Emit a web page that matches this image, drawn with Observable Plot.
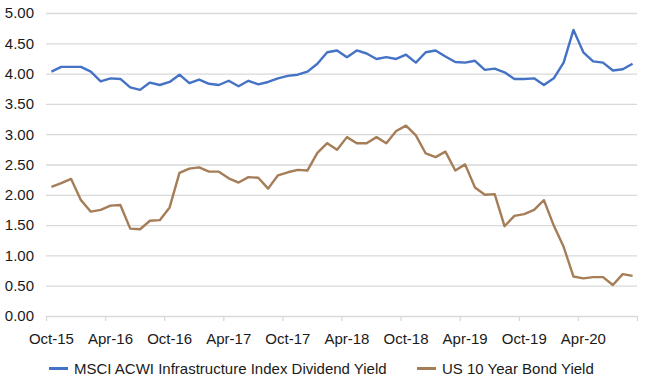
<!DOCTYPE html>
<html>
<head>
<meta charset="utf-8">
<script src="https://cdn.jsdelivr.net/npm/d3@7"></script>
<script src="https://cdn.jsdelivr.net/npm/@observablehq/plot@0.6"></script>
<style>
  html, body { margin: 0; padding: 0; background: #fff; }
  body { width: 646px; height: 384px; overflow: hidden; font-family: "Liberation Sans", Arial, sans-serif; }
  #legend { position: relative; height: 32px; font-size: 15px; color: #1a1a1a; }
  .item { position: absolute; top: 8px; display: flex; align-items: center; white-space: nowrap; }
  .sw { width: 19px; height: 3px; margin-right: 6px; }
</style>
</head>
<body>
<div id="chart"></div>
<div id="legend"></div>
<script>
const months = [
  "Oct-15","Nov-15","Dec-15","Jan-16","Feb-16","Mar-16","Apr-16","May-16","Jun-16","Jul-16","Aug-16","Sep-16",
  "Oct-16","Nov-16","Dec-16","Jan-17","Feb-17","Mar-17","Apr-17","May-17","Jun-17","Jul-17","Aug-17","Sep-17",
  "Oct-17","Nov-17","Dec-17","Jan-18","Feb-18","Mar-18","Apr-18","May-18","Jun-18","Jul-18","Aug-18","Sep-18",
  "Oct-18","Nov-18","Dec-18","Jan-19","Feb-19","Mar-19","Apr-19","May-19","Jun-19","Jul-19","Aug-19","Sep-19",
  "Oct-19","Nov-19","Dec-19","Jan-20","Feb-20","Mar-20","Apr-20","May-20","Jun-20","Jul-20","Aug-20","Sep-20"
];
const infraYield = [
  4.04,4.12,4.12,4.12,4.04,3.88,3.93,3.92,3.78,3.74,3.86,3.82,
  3.87,3.99,3.85,3.91,3.84,3.82,3.89,3.80,3.89,3.83,3.87,3.93,
  3.97,3.99,4.04,4.17,4.36,4.39,4.28,4.39,4.34,4.25,4.28,4.25,
  4.32,4.19,4.36,4.39,4.29,4.20,4.19,4.22,4.07,4.09,4.03,3.92,
  3.92,3.93,3.82,3.93,4.19,4.73,4.36,4.21,4.19,4.06,4.08,4.17
];
const bondYield = [
  2.14,2.20,2.27,1.92,1.73,1.76,1.83,1.84,1.45,1.44,1.58,1.59,
  1.80,2.37,2.44,2.46,2.39,2.39,2.28,2.21,2.30,2.29,2.11,2.33,
  2.38,2.42,2.41,2.70,2.86,2.75,2.96,2.86,2.86,2.96,2.86,3.06,
  3.15,2.99,2.69,2.63,2.72,2.41,2.51,2.13,2.01,2.02,1.49,1.66,
  1.69,1.76,1.92,1.50,1.15,0.66,0.63,0.65,0.65,0.52,0.70,0.67
];
const tickLabels = ["Oct-15","Apr-16","Oct-16","Apr-17","Oct-17","Apr-18","Oct-18","Apr-19","Oct-19","Apr-20"];
const yTicks = [0,0.5,1,1.5,2,2.5,3,3.5,4,4.5,5];
const seriesNames = ["MSCI ACWI Infrastructure Index Dividend Yield", "US 10 Year Bond Yield"];
const seriesColors = ["#4472c4", "#a57d57"];

const rows = [];
months.forEach((m, i) => {
  rows.push({i, month: m, value: infraYield[i], series: seriesNames[0]});
  rows.push({i, month: m, value: bondYield[i], series: seriesNames[1]});
});
const labelIdx = tickLabels.map(t => months.indexOf(t));
const boundaries = d3.range(0, months.length + 1, 6).map(k => k - 0.5);

const chart = Plot.plot({
  width: 646,
  height: 352,
  marginLeft: 46,
  marginRight: 9,
  marginTop: 13,
  marginBottom: 36,
  style: {fontFamily: '"Liberation Sans", Arial, sans-serif', fontSize: "15px", color: "#1a1a1a", background: "#fff"},
  x: {type: "linear", domain: [-0.5, months.length - 0.5], label: null},
  y: {domain: [0, 5], label: null},
  color: {domain: seriesNames, range: seriesColors},
  marks: [
    Plot.gridY(yTicks, {stroke: "#d9d9d9", strokeOpacity: 1, strokeWidth: 1.3}),
    Plot.axisX(boundaries, {tickSize: 5, tickFormat: () => "", stroke: "#d9d9d9", strokeWidth: 1.3, label: null}),
    Plot.axisX(labelIdx, {tickSize: 0, tickPadding: 17, tickFormat: i => months[i], label: null, fill: "#1a1a1a"}),
    Plot.axisY(yTicks, {tickSize: 0, tickPadding: 12.5, tickFormat: d3.format(".2f"), label: null, fill: "#1a1a1a"}),
    Plot.lineY(rows, {x: "i", y: "value", z: "series", stroke: "series", strokeWidth: 2.4, strokeLinejoin: "round", strokeLinecap: "butt"})
  ]
});
document.getElementById("chart").appendChild(chart);

const legend = document.getElementById("legend");
const lefts = [49, 417];
seriesNames.forEach((name, k) => {
  const it = document.createElement("div");
  it.className = "item";
  it.style.left = lefts[k] + "px";
  const sw = document.createElement("span");
  sw.className = "sw";
  sw.style.background = seriesColors[k];
  const tx = document.createElement("span");
  tx.textContent = name;
  it.appendChild(sw);
  it.appendChild(tx);
  legend.appendChild(it);
});
</script>
</body>
</html>
